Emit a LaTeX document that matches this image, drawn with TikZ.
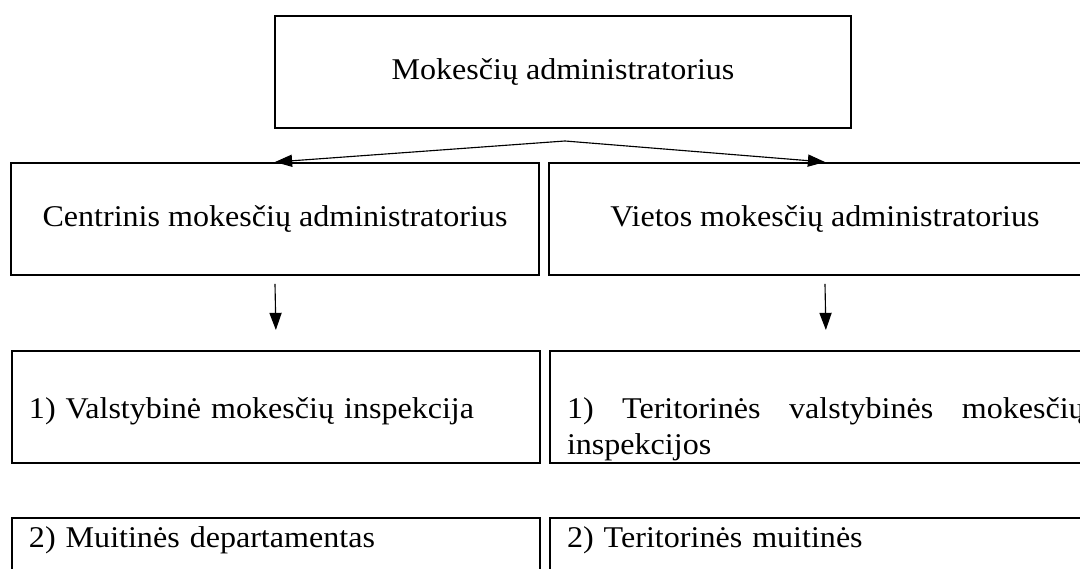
\documentclass[tikz,border=0pt]{standalone}
\usepackage{fontspec}
\setmainfont{Liberation Serif}[FakeStretch=1.065]
\usepackage{tikz}
\usetikzlibrary{arrows.meta}
\usetikzlibrary{calc, positioning}
\tikzstyle{box}=[rectangle, draw, line width=0.8pt, inner sep=0pt]
\tikzstyle{arr}=[->, line width=0.45pt]
\hyphenpenalty=10000
\tolerance=10000

\begin{document}
\begin{tikzpicture}[x=0.014cm, y=-0.014cm]
\tikzset{>={Triangle[length=0.24cm, width=0.17cm]}}

\tikzset{every node/.style={font=\fontsize{12pt}{14pt}\selectfont}}

% page
\useasboundingbox (0,0) rectangle (1080,569);

% top box
\node[box, minimum width=8.064cm, minimum height=1.568cm] (adm) at (563,72) {Mokesčių administratorius};

% level 1
\node[box, minimum width=7.392cm, minimum height=1.568cm] (cent) at (275,219) {Centrinis mokesčių administratorius};
\node[box, minimum width=7.728cm, minimum height=1.568cm] (viet) at (825,219) {Vietos mokesčių administratorius};

\coordinate (split) at (565,141);
\draw[arr] (split) -- (cent.north);
\draw[arr] (split) -- (viet.north);

% level 2
\node[box, anchor=north west, text width=6.916cm, inner xsep=0.238cm, text height=0.952cm, text depth=0.616cm, align=left] (vmi) at (11,350) {1) Valstybinė mokesčių inspekcija};
\node[box, anchor=north west, text width=7.252cm, inner xsep=0.238cm, text height=0.952cm, text depth=0.616cm, align=justify] (tvmi) at (549,350) {1) Teritorinės valstybinės mokesčių inspekcijos};

\draw[arr] ($(cent.south)+(0,8)$) -- ($(vmi.north)+(0,-20)$);
\draw[arr] ($(viet.south)+(0,8)$) -- ($(tvmi.north)+(0,-20)$);

% level 3
\node[box, anchor=north west, text width=6.916cm, inner xsep=0.238cm, text height=0.42cm, text depth=1.148cm, align=left] (md) at (11,517) {2) Muitinės departamentas};
\node[box, anchor=north west, text width=7.252cm, inner xsep=0.238cm, text height=0.42cm, text depth=1.148cm, align=left] (tm) at (549,517) {2) Teritorinės muitinės};

\end{tikzpicture}
\end{document}
